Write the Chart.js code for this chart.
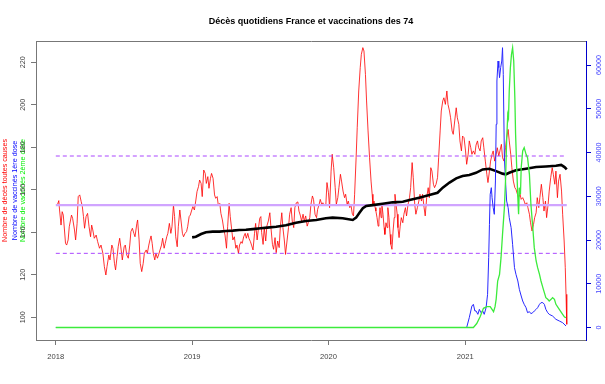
<!DOCTYPE html>
<html>
<head>
<meta charset="utf-8">
<script src="https://cdn.jsdelivr.net/npm/chart.js@4/dist/chart.umd.min.js"></script>
<style>
html,body{margin:0;padding:0;background:#fff;}
canvas{display:block;}
</style>
</head>
<body>
<canvas id="c" width="605" height="384"></canvas>
<script>
// ---- Data (days counted from 2018-01-01) ----
const yearLabels = ['2018', '2019', '2020', '2021'];
const yearDays = [0, 365, 730, 1096];
const leftTicks = [100, 120, 140, 160, 180, 200, 220];
const rightTicks = [0, 10000, 20000, 30000, 40000, 50000, 60000];

const deathDays = [4,8,10,14,17,20,26,29,33,36,42,45,50,53,57,60,64,68,71,74,77,81,85,89,93,96,99,103,108,112,117,121,126,130,134,137,142,145,150,153,157,160,164,167,171,175,178,183,186,190,194,198,201,205,209,212,217,219,223,226,230,234,237,242,245,249,252,
255,258,261,265,268,272,275,279,283,286,290,293,297,300,304,308,311,315,318,321,325,328,332,335,339,342,346,350,353,357,360,364,367,371,375,378,382,385,389,392,396,400,403,407,410,414,417,421,425,428,432,435,439,442,446,450,453,457,460,464,467,471,474,478,482,485,489,492,496,499,503,507,510,514,517,521,524,528,532,535,539,542,546,549,
551,555,558,562,565,569,573,576,580,583,587,590,594,598,601,605,608,612,615,619,623,626,630,633,637,640,644,648,651,655,658,662,665,669,673,676,680,683,687,690,694,698,701,705,708,712,715,719,723,726,730,733,737,740,744,748,751,755,758,762,765,769,773,776,780,783,787,790,794,797,800,804,807,811,815,818,822,825,829,832,836,840,
844,847,849,852,855,857,860,863,865,868,871,873,876,879,881,884,887,889,892,895,897,900,903,906,908,911,914,916,919,922,925,929,932,936,939,943,947,950,954,957,961,964,968,972,975,979,982,986,989,993,997,1000,1004,1007,1011,1014,1018,1022,1025,1029,1032,1036,1039,1043,1047,1050,1054,1057,1061,1064,1068,1072,1075,1079,1082,1086,1089,1093,1097,1100,1104,1107,1111,1114,1118,1122,1125,
1129,1132,1136,1139,1143,1146,1150,1154,1157,1161,1164,1168,1171,1175,1179,1182,1186,1189,1193,1196,1200,1204,1207,1211,1214,1218,1221,1225,1229,1232,1236,1239,1243,1246,1250,1254,1257,1261,1264,1268,1271,1275,1279,1282,1286,1289,1293,1296,1300,1304,1307,1311,1314,1318,1321,1325,1329,1332,1336,1339,1343,1346,1350,1354,1357,1361,1364,1366,1368];
const deaths = [152.8,154.9,150.5,143.4,149.7,148.1,134.8,134.0,136.4,142.6,148.1,146.6,141.1,136.4,144.2,156.8,157.6,154.4,152.1,147.4,141.9,147.4,148.9,142.6,137.9,143.4,141.1,137.2,138.7,135.6,132.5,134.0,130.1,123.8,119.9,123.8,129.3,127.0,134.0,132.5,125.4,122.3,128.5,133.2,137.2,131.7,127.0,133.2,134.0,129.3,127.8,134.0,140.3,141.9,139.5,137.9,144.2,145.8,136.4,125.4,121.5,125.4,130.1,131.7,130.1,134.0,136.4,
138.3,134.8,130.1,127.0,130.1,127.8,129.3,131.7,134.0,137.2,132.5,134.8,137.9,139.5,144.2,139.5,142.6,152.8,147.4,137.9,133.2,142.6,150.5,145.8,139.5,137.9,139.5,140.3,142.6,147.4,148.1,150.5,152.1,150.5,155.2,159.1,161.5,164.6,163.0,156.8,169.3,167.7,163.0,166.2,160.7,165.4,167.7,165.4,157.6,156.0,156.8,152.8,153.6,148.9,145.8,141.1,138.7,132.5,142.6,153.6,147.4,141.1,136.4,137.9,132.5,134.0,130.1,134.0,135.6,134.8,137.9,139.5,137.2,139.5,137.2,135.6,134.0,131.7,139.5,144.2,136.4,141.1,146.6,147.4,
140.0,134.3,142.2,135.9,142.9,145.3,149.2,142.2,134.3,132.0,137.5,130.4,135.9,132.8,142.2,149.2,142.2,135.9,129.6,135.9,142.2,148.5,151.6,145.3,142.2,151.6,153.9,154.3,150.0,147.7,145.3,148.5,145.3,147.7,142.9,144.5,146.9,153.1,157.1,155.5,148.5,146.9,150.8,153.1,155.5,153.1,153.9,152.4,153.1,163.4,158.6,151.6,168.8,176.7,170.4,161.0,153.1,156.3,161.0,167.3,164.1,159.4,156.3,157.9,153.1,154.7,151.6,153.1,148.5,147.7,157.9,175.1,189.2,206.5,217.5,223.7,226.9,225.3,214.3,201.8,187.7,175.1,
164.1,157.9,153.1,154.7,151.6,150.0,146.9,142.9,145.3,151.6,146.9,153.1,148.5,142.2,139.0,144.5,142.2,151.6,146.9,139.0,134.3,132.0,140.6,146.9,157.9,153.1,148.5,142.2,137.5,142.9,146.9,144.5,148.5,151.6,147.7,153.1,156.3,161.0,172.8,165.7,153.1,148.5,151.6,154.7,157.9,154.7,157.9,151.6,147.7,156.3,161.0,156.3,170.4,168.8,162.6,161.0,162.6,165.7,175.1,187.7,197.1,201.8,203.3,200.2,206.5,200.2,197.1,193.9,187.7,186.1,192.4,198.6,193.9,190.8,183.0,178.3,185.3,184.5,178.3,172.0,176.7,183.0,179.8,176.7,178.3,176.7,181.0,
183.0,179.8,178.3,183.0,184.5,179.8,173.5,167.3,163.4,168.8,173.5,176.7,178.3,173.5,176.7,179.8,175.9,178.3,181.4,175.1,173.5,179.8,184.5,188.4,183.0,176.7,170.4,164.1,161.0,160.2,157.9,156.3,157.9,155.5,156.3,154.7,153.1,153.9,151.6,148.5,144.5,140.6,143.7,146.9,149.2,156.3,151.6,156.3,162.6,156.3,150.0,154.7,146.9,153.1,159.4,165.7,170.4,167.3,162.6,168.8,156.3,164.1,167.3,159.4,148.5,135.9,123.4,110.8,96.7];

// yearly rolling mean of deaths (black)
const trendDays = [365,375,389,402,420,438,456,474,491,509,527,549,566,590,616,643,670,697,723,741,768,795,804,813,822,831,848,875,902,929,947,973,1000,1022,1036,1054,1072,1089,1107,1125,1143,1161,1179,1196,1205,1214,1232,1259,1286,1312,1339,1353,1362,1368];
const trend = [137.6,137.9,139.2,140.0,140.3,140.3,140.6,140.8,141.1,141.2,141.5,141.9,142.2,142.6,143.3,144.5,145.3,145.8,146.6,146.9,146.6,145.8,146.9,149.2,151.3,152.4,152.8,153.4,154.1,154.4,155.2,156.3,157.5,158.6,161.0,163.4,165.4,166.5,167.0,168.0,169.6,169.9,168.8,167.6,167.3,168.0,169.2,169.9,170.7,171.0,171.3,171.7,170.7,169.6];

// reference levels of daily deaths
const meanDeaths = 152.8;
const upperDeaths = 175.9;
const lowerDeaths = 130.1;

// vaccinated, 1st dose (blue)
const dose1Days = [0,1100,1107,1114,1118,1122,1125,1130,1134,1138,1143,1147,1152,1156,1159,1161,1163,1166,1168,1171,1174,1177,1179,1181,1184,1186,1188,1191,1194,1196,1198,1201,1204,1207,1211,1214,1219,1223,1228,1232,1237,1241,1246,1250,1254,1259,1263,1268,1272,1277,1281,1286,1290,1295,1299,1304,1308,1312,1317,1321,1330,1339,1348,1357,1366];
const dose1 = [0,0,2240,4910,5300,3770,3800,3010,4150,3390,3770,3010,4530,7580,15960,23580,30440,31960,29680,27390,25870,33490,46440,56340,60910,59390,57100,59390,60910,63960,57860,38820,33490,28910,27390,25110,22820,19010,13680,12160,10630,8730,7200,6060,5300,4530,3390,3620,3160,3390,3770,4150,4530,5300,5680,5680,5300,4150,3390,3010,2630,1870,1490,1100,340];

// vaccinated, 2nd dose (green)
const dose2Days = [0,1118,1127,1136,1145,1154,1163,1172,1176,1179,1183,1188,1192,1196,1201,1204,1207,1210,1212,1214,1217,1220,1223,1226,1229,1231,1234,1237,1239,1241,1244,1246,1250,1254,1259,1263,1268,1272,1277,1281,1286,1290,1295,1299,1304,1308,1312,1317,1321,1326,1330,1335,1339,1348,1357,1362,1366];
const dose2 = [0,0,910,2470,4380,4760,4760,3620,4760,6500,10630,12160,15960,21290,27390,33490,42630,48720,47960,54050,59390,62440,63960,60910,52530,44150,36530,29680,25870,31960,30440,36530,40340,41100,39580,38820,35010,28160,22820,18250,15200,13680,12160,10630,9110,7970,6820,6440,6060,6440,6820,6440,5300,4150,3010,2400,2250];

const titleText = 'Décès quotidiens France et vaccinations des 74';
const labelDeaths = 'Nombre de décès toutes causes';
const labelDose1 = 'Nombre de vaccinés 1ère dose';
const labelDose2 = 'Nombre de vaccinés 2ème dose';

// ---- build ----
const pts = (xs, ys) => xs.map((x, i) => ({x: x, y: ys[i]}));
const firstDay = deathDays[0] - 4, lastDay = deathDays[deathDays.length - 1];
const flat = v => [{x: firstDay, y: v}, {x: lastDay, y: v}];
const FF = 'Liberation Sans, Arial, sans-serif';

new Chart(document.getElementById('c'), {
  type: 'line',
  data: {
    datasets: [
      {label: labelDeaths, data: pts(deathDays, deaths), yAxisID: 'y', borderColor: 'rgba(255,0,0,0.8)', borderWidth: 1, pointRadius: 0, order: 6},
      {label: 'moyenne', data: flat(meanDeaths), yAxisID: 'y', borderColor: 'rgb(208,164,255)', borderWidth: 2.2, pointRadius: 0, order: 5},
      {label: 'haut', data: flat(upperDeaths), yAxisID: 'y', borderColor: 'rgb(170,70,255)', borderWidth: 1, borderDash: [4, 3], pointRadius: 0, order: 5},
      {label: 'bas', data: flat(lowerDeaths), yAxisID: 'y', borderColor: 'rgb(170,70,255)', borderWidth: 1, borderDash: [4, 3], pointRadius: 0, order: 5},
      {label: 'tendance', data: pts(trendDays, trend), yAxisID: 'y', borderColor: '#000000', borderWidth: 2.6, pointRadius: 0, order: 3},
      {label: labelDose1, data: pts(dose1Days, dose1), yAxisID: 'y2', borderColor: 'rgb(40,40,255)', borderWidth: 1, pointRadius: 0, order: 2},
      {label: labelDose2, data: pts(dose2Days, dose2), yAxisID: 'y2', borderColor: 'rgb(60,235,60)', borderWidth: 1.3, pointRadius: 0, order: 1}
    ]
  },
  options: {
    responsive: false,
    animation: false,
    devicePixelRatio: 1,
    layout: {padding: {left: 0.7, right: 0.84, top: 0, bottom: 15.68}},
    plugins: {
      legend: {display: false},
      tooltip: {enabled: false},
      title: {
        display: true, text: titleText, fullSize: false, color: '#000',
        font: {family: FF, size: 9, weight: 'bold'},
        padding: {top: 16.6, bottom: 13.6}
      }
    },
    scales: {
      x: {
        type: 'linear', position: 'bottom', min: -53, max: 1419.5,
        afterBuildTicks: s => { s.ticks = yearDays.map(v => ({value: v})); },
        ticks: {callback: (v, i) => yearLabels[i], color: '#444', font: {family: FF, size: 7.6}, padding: 7.1, maxRotation: 0, autoSkip: false},
        grid: {drawOnChartArea: false, tickLength: 5, color: '#777'},
        border: {color: '#777'}
      },
      xTop: {
        type: 'linear', position: 'top', min: 0, max: 1,
        ticks: {display: false},
        grid: {display: false, drawTicks: false},
        border: {display: true, color: '#777'}
      },
      y: {
        type: 'linear', position: 'left', min: 89.32, max: 230.02, weight: 0,
        afterBuildTicks: s => { s.ticks = leftTicks.map(v => ({value: v})); },
        ticks: {callback: v => String(v), color: '#444', font: {family: FF, size: 7.2}, padding: 2.3, minRotation: 90, maxRotation: 90, crossAlign: 'center', autoSkip: false},
        grid: {drawOnChartArea: false, tickLength: 5, color: '#777'},
        border: {color: '#777'},
        title: {display: true, text: labelDose2, color: '#00ee00', font: {family: FF, size: 7.2}, padding: {top: 0, bottom: -9.86}}
      },
      yLab1: {
        type: 'linear', position: 'left', weight: 1, min: 0, max: 1,
        ticks: {display: false}, grid: {display: false, drawTicks: false}, border: {display: false},
        title: {display: true, text: labelDose1, color: '#0000ff', font: {family: FF, size: 7.2}, padding: {top: 0, bottom: -0.34}}
      },
      yLab0: {
        type: 'linear', position: 'left', weight: 2, min: 0, max: 1,
        ticks: {display: false}, grid: {display: false, drawTicks: false}, border: {display: false},
        title: {display: true, text: labelDeaths, color: '#ff0000', font: {family: FF, size: 7.2}, padding: {top: 0, bottom: 1.36}}
      },
      y2: {
        type: 'linear', position: 'right', min: -2857, max: 65486,
        afterBuildTicks: s => { s.ticks = rightTicks.map(v => ({value: v})); },
        ticks: {callback: v => String(v), color: '#4444ff', font: {family: FF, size: 7.2, lineHeight: 2.3}, padding: -1.7, minRotation: 90, maxRotation: 90, crossAlign: 'center', autoSkip: false},
        grid: {drawOnChartArea: false, tickLength: 5, color: '#0000cc'},
        border: {color: '#0000cc'}
      }
    }
  }
});
</script>
</body>
</html>
